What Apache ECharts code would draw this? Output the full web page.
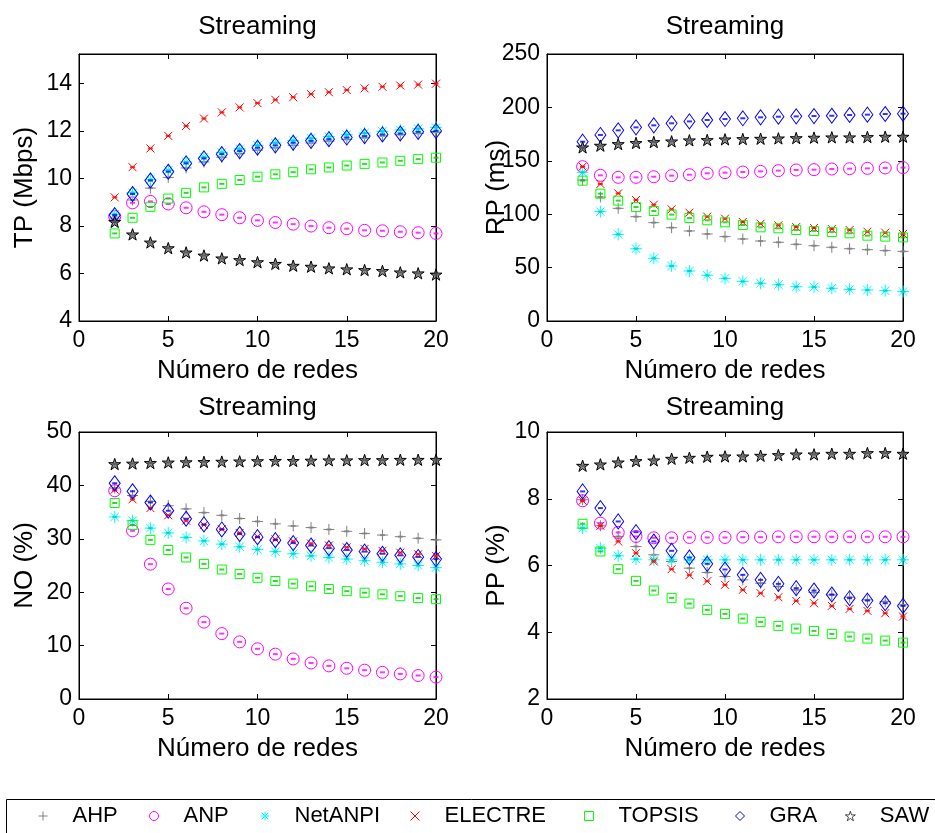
<!DOCTYPE html>
<html><head><meta charset="utf-8">
<script src="https://cdn.jsdelivr.net/npm/echarts@6/dist/echarts.min.js"></script>
<style>html,body{margin:0;padding:0;background:#fff}#c{width:935px;height:833px}</style>
</head><body><div id="c"></div><script>
// ---------- DATA ----------
const networks = [2,3,4,5,6,7,8,9,10,11,12,13,14,15,16,17,18,19,20];
const methods = ['AHP','ANP','NetANPI','ELECTRE','TOPSIS','GRA','SAW'];
const xTicks = [0,5,10,15,20];

// Throughput TP (Mbps)
const tpAHP     = [8.3,9.1,9.6,10.05,10.45,10.7,10.9,11.05,11.2,11.3,11.4,11.5,11.58,11.65,11.72,11.8,11.85,11.9,11.95];
const tpANP     = [8.4,8.98,9.04,8.93,8.77,8.6,8.48,8.35,8.24,8.15,8.08,8.0,7.93,7.89,7.82,7.8,7.76,7.72,7.69];
const tpNetANPI = [8.5,9.4,9.95,10.35,10.7,10.9,11.1,11.25,11.4,11.5,11.6,11.7,11.77,11.85,11.92,11.99,12.05,12.1,12.15];
const tpELECTRE = [9.21,10.48,11.27,11.8,12.22,12.53,12.79,13.0,13.18,13.32,13.43,13.56,13.64,13.73,13.8,13.87,13.92,13.96,14.0];
const tpTOPSIS  = [7.69,8.35,8.81,9.16,9.4,9.63,9.78,9.94,10.08,10.18,10.27,10.39,10.47,10.55,10.62,10.68,10.75,10.82,10.88];
const tpGRA     = [8.46,9.35,9.92,10.29,10.64,10.85,11.03,11.16,11.3,11.4,11.51,11.59,11.66,11.73,11.79,11.86,11.9,11.97,12.01];
const tpSAW     = [8.18,7.65,7.31,7.07,6.89,6.76,6.64,6.57,6.48,6.41,6.33,6.29,6.22,6.18,6.15,6.11,6.05,6.01,5.96];

// Retardo RP (ms)
const rpAHP     = [132,116.1,105.5,97.7,92.1,87.4,84.3,81.5,79.0,76.8,74.9,73.7,71.8,70.5,69.0,67.7,66.8,65.9,65.2];
const rpANP     = [144.5,136.4,134.5,134.5,135.1,136.1,137.0,138.3,138.9,139.5,140.1,140.8,141.4,141.7,142.3,142.6,142.9,143.3,143.6];
const rpNetANPI = [139.2,102.4,81.1,67.7,58.7,51.5,46.8,42.8,39.9,37.1,35.3,34.0,32.1,31.8,30.6,29.6,29.0,28.4,27.5];
const rpELECTRE = [144.5,128.3,119.5,113.3,108.9,104.6,101.4,97.7,95.8,92.7,91.1,89.6,88.0,87.1,86.1,85.2,83.6,82.7,81.5];
const rpTOPSIS  = [131.4,119.2,112.7,106.7,103.0,99.6,96.4,94.3,92.4,89.9,87.7,86.8,85.2,84.3,83.3,82.1,79.9,79.0,78.3];
const rpGRA     = [167.9,174.2,178.5,181.3,183.2,185.1,186.9,188.2,189.1,189.8,190.7,191.3,191.6,191.9,192.2,192.9,193.2,193.8,194.1];
const rpSAW     = [162.6,164.2,165.7,166.7,167.6,168.2,169.2,169.5,170.1,170.4,170.7,171.0,171.3,171.7,172.0,172.0,172.3,172.6,172.6];

// NO (%)
const noAHP     = [39.5,38.1,37.0,36.2,35.6,34.9,34.4,33.8,33.25,32.8,32.4,32.1,31.75,31.4,31.0,30.7,30.4,30.1,29.8];
const noANP     = [39.0,31.5,25.25,20.6,17.0,14.4,12.25,10.7,9.4,8.4,7.5,6.75,6.2,5.75,5.4,5.0,4.7,4.4,4.1];
const noNetANPI = [34.1,33.4,32.0,31.1,30.25,29.6,29.0,28.5,28.0,27.6,27.2,26.8,26.5,26.2,25.9,25.6,25.3,25.0,24.6];
const noELECTRE = [39.2,37.4,35.75,34.4,33.4,32.6,31.8,31.1,30.4,29.9,29.5,29.1,28.75,28.4,28.1,27.75,27.4,27.1,26.8];
const noTOPSIS  = [36.7,32.6,29.8,27.9,26.5,25.3,24.25,23.4,22.7,22.1,21.6,21.1,20.6,20.2,19.9,19.6,19.25,18.9,18.7];
const noGRA     = [40.4,38.9,36.8,35.25,33.75,32.7,31.75,30.9,30.3,29.75,29.2,28.75,28.25,27.9,27.6,27.2,26.9,26.6,26.2];
const noSAW     = [44.0,44.1,44.2,44.3,44.35,44.4,44.45,44.5,44.55,44.6,44.6,44.65,44.7,44.7,44.75,44.75,44.8,44.8,44.8];

// PP (%)
const ppAHP     = [7.97,7.19,6.87,6.57,6.32,6.12,5.92,5.79,5.67,5.57,5.47,5.37,5.27,5.19,5.12,5.05,4.97,4.92,4.82];
const ppANP     = [7.94,7.27,6.99,6.87,6.83,6.83,6.84,6.84,6.84,6.85,6.85,6.86,6.86,6.86,6.86,6.86,6.86,6.86,6.86];
const ppNetANPI = [7.12,6.52,6.29,6.19,6.17,6.17,6.17,6.17,6.17,6.17,6.17,6.17,6.17,6.17,6.17,6.17,6.17,6.17,6.17];
const ppELECTRE = [7.94,7.19,6.72,6.37,6.12,5.89,5.71,5.53,5.42,5.27,5.17,5.05,4.94,4.87,4.79,4.7,4.64,4.57,4.47];
const ppTOPSIS  = [7.25,6.42,5.89,5.54,5.25,5.03,4.86,4.67,4.55,4.41,4.31,4.19,4.11,4.04,3.95,3.87,3.81,3.75,3.69];
const ppGRA     = [8.22,7.72,7.32,7.0,6.72,6.44,6.24,6.05,5.88,5.72,5.57,5.45,5.32,5.25,5.13,5.02,4.95,4.87,4.79];
const ppSAW     = [8.99,9.03,9.09,9.13,9.15,9.2,9.23,9.26,9.27,9.27,9.29,9.31,9.33,9.33,9.35,9.35,9.37,9.37,9.35];

const panelTitle = 'Streaming';
const xName = 'Número de redes';
const yNames = ['TP (Mbps)','RP (ms)','NO (%)','PP (%)'];
const panelValues = [
  [tpAHP,tpANP,tpNetANPI,tpELECTRE,tpTOPSIS,tpGRA,tpSAW],
  [rpAHP,rpANP,rpNetANPI,rpELECTRE,rpTOPSIS,rpGRA,rpSAW],
  [noAHP,noANP,noNetANPI,noELECTRE,noTOPSIS,noGRA,noSAW],
  [ppAHP,ppANP,ppNetANPI,ppELECTRE,ppTOPSIS,ppGRA,ppSAW]
];
const yRanges = [[4,15.25,2],[0,250,50],[0,50,10],[2,10,2]];

// ---------- STYLE ----------
const FONT = '"Liberation Sans", Arial, Helvetica, sans-serif';
const colors = ['#808080','#ff00ff','#00ffff','#ff0000','#00ff00','#0000ff','#000000'];
const dashColors = ['#808080','#ff00ff','#00c8c8','#ff0000','#00cc00','#0000ff','#505050'];
const STAR = 'path://M50,0L61.23,34.55L97.55,34.55L68.17,55.9L79.39,90.45L50,69.1L20.61,90.45L31.83,55.9L2.45,34.55L38.77,34.55Z';
const symbols = [
  'path://M5,0L5,10M0,5L10,5',
  'circle',
  'path://M5,0L5,10M0,5L10,5M1.46,1.46L8.54,8.54M8.54,1.46L1.46,8.54',
  'path://M0,0L10,10M10,0L0,10',
  'rect',
  'diamond',
  STAR
];
const symbolSizes = [11, 12, 12, 8, 9, [11,15], 12];

const grids = [
  {left:79, top:54, width:357, height:267},
  {left:547, top:54, width:356, height:267},
  {left:79, top:432, width:357, height:267},
  {left:547, top:432, width:356, height:267}
];
const yNameGaps = [41, 37, 41, 37];

const xAxes = [], yAxes = [], series = [], titles = [];
grids.forEach((g, gi) => {
  g.show = true; g.borderColor = '#000'; g.borderWidth = 1; g.containLabel = false;
  const [ymin, ymax, yint] = yRanges[gi];
  ['bottom','top'].forEach((pos, k) => {
    xAxes.push({
      type:'value', gridIndex:gi, position:pos, min:0, max:20, interval:5,
      axisLine:{show:true, onZero:false, lineStyle:{color:'#000', width:1}},
      axisTick:{show:true, inside:true, length:5, lineStyle:{color:'#000', width:1}},
      axisLabel:{show:k===0, color:'#000', fontSize:23, fontFamily:FONT, margin:8,
        formatter: v => xTicks.includes(v) ? String(v) : ''},
      splitLine:{show:false},
      name: k===0 ? xName : '', nameLocation:'middle', nameGap:37, nameMoveOverlap:false,
      nameTextStyle:{color:'#000', fontSize:26, fontFamily:FONT}
    });
  });
  ['left','right'].forEach((pos, k) => {
    yAxes.push({
      type:'value', gridIndex:gi, position:pos, min:ymin, max:ymax, interval:yint,
      axisLine:{show:true, onZero:false, lineStyle:{color:'#000', width:1}},
      axisTick:{show:true, inside:true, length:5, lineStyle:{color:'#000', width:1}},
      axisLabel:{show:k===0, color:'#000', fontSize:23, fontFamily:FONT, margin:7, showMaxLabel: gi!==0},
      splitLine:{show:false},
      name: k===0 ? yNames[gi] : '', nameLocation:'middle', nameGap:yNameGaps[gi], nameRotate:90,
      nameMoveOverlap:false,
      nameTextStyle:{color:'#000', fontSize:26, fontFamily:FONT}
    });
  });
  titles.push({text:panelTitle, left:g.left + g.width/2, top: gi < 2 ? 14 : 395, textAlign:'center', padding:0,
    textStyle:{color:'#000', fontSize:26, fontWeight:'normal', fontFamily:FONT}});
  methods.forEach((m, mi) => {
    const data = networks.map((n, k) => [n, panelValues[gi][mi][k]]);
    if (mi === 6) {
      series.push({
        type:'scatter', name:m+'_fill', xAxisIndex:gi*2, yAxisIndex:gi*2, data,
        symbol:STAR, symbolSize:12, symbolKeepAspect:true,
        itemStyle:{color:'rgba(80,80,80,0.8)'},
        emphasis:{disabled:true}, silent:true, animation:false
      });
    }
    series.push({
      type:'scatter', name:m, xAxisIndex:gi*2, yAxisIndex:gi*2, data,
      symbol:symbols[mi], symbolSize:symbolSizes[mi], symbolKeepAspect: mi!==5,
      itemStyle:{color:'transparent', borderColor:colors[mi], borderWidth:1, opacity:1},
      emphasis:{disabled:true}, silent:true, animation:false
    });
    series.push({
      type:'scatter', name:m+'_eb', xAxisIndex:gi*2, yAxisIndex:gi*2, data,
      symbol:'rect', symbolSize:[5,2],
      itemStyle:{color:dashColors[mi]},
      emphasis:{disabled:true}, silent:true, animation:false
    });
  });
});

const legendIconCenters = [42,153,264,414,588,739,850];
const legendIconSizes = [9,9,9,9,9,9,10];
const legends = methods.map((m, mi) => {
  const s = legendIconSizes[mi];
  return {
    left: Math.round(legendIconCenters[mi] - s/2), top: 805, orient:'horizontal', padding:0,
    itemWidth:s, itemHeight:s, selectedMode:false,
    data:[{name:m, icon:symbols[mi], itemStyle:{color:'#ffffff', borderColor:colors[mi], borderWidth: mi===6 ? 0.7 : 1}}],
    textStyle:{color:'#000', fontSize:22, fontFamily:FONT, padding:[0,0,0,20 - (s-9)/2]}
  };
});

const chart = echarts.init(document.getElementById('c'), null, {renderer:'canvas'});
chart.setOption({
  animation:false,
  backgroundColor:'#fff',
  textStyle:{fontFamily:FONT},
  title:titles,
  grid:grids,
  xAxis:xAxes,
  yAxis:yAxes,
  legend:legends,
  series,
  graphic:[{type:'rect', shape:{x:6.5, y:799.5, width:940, height:50},
    style:{fill:'none', stroke:'#000', lineWidth:1}, silent:true, z:-1}]
});
</script></body></html>
